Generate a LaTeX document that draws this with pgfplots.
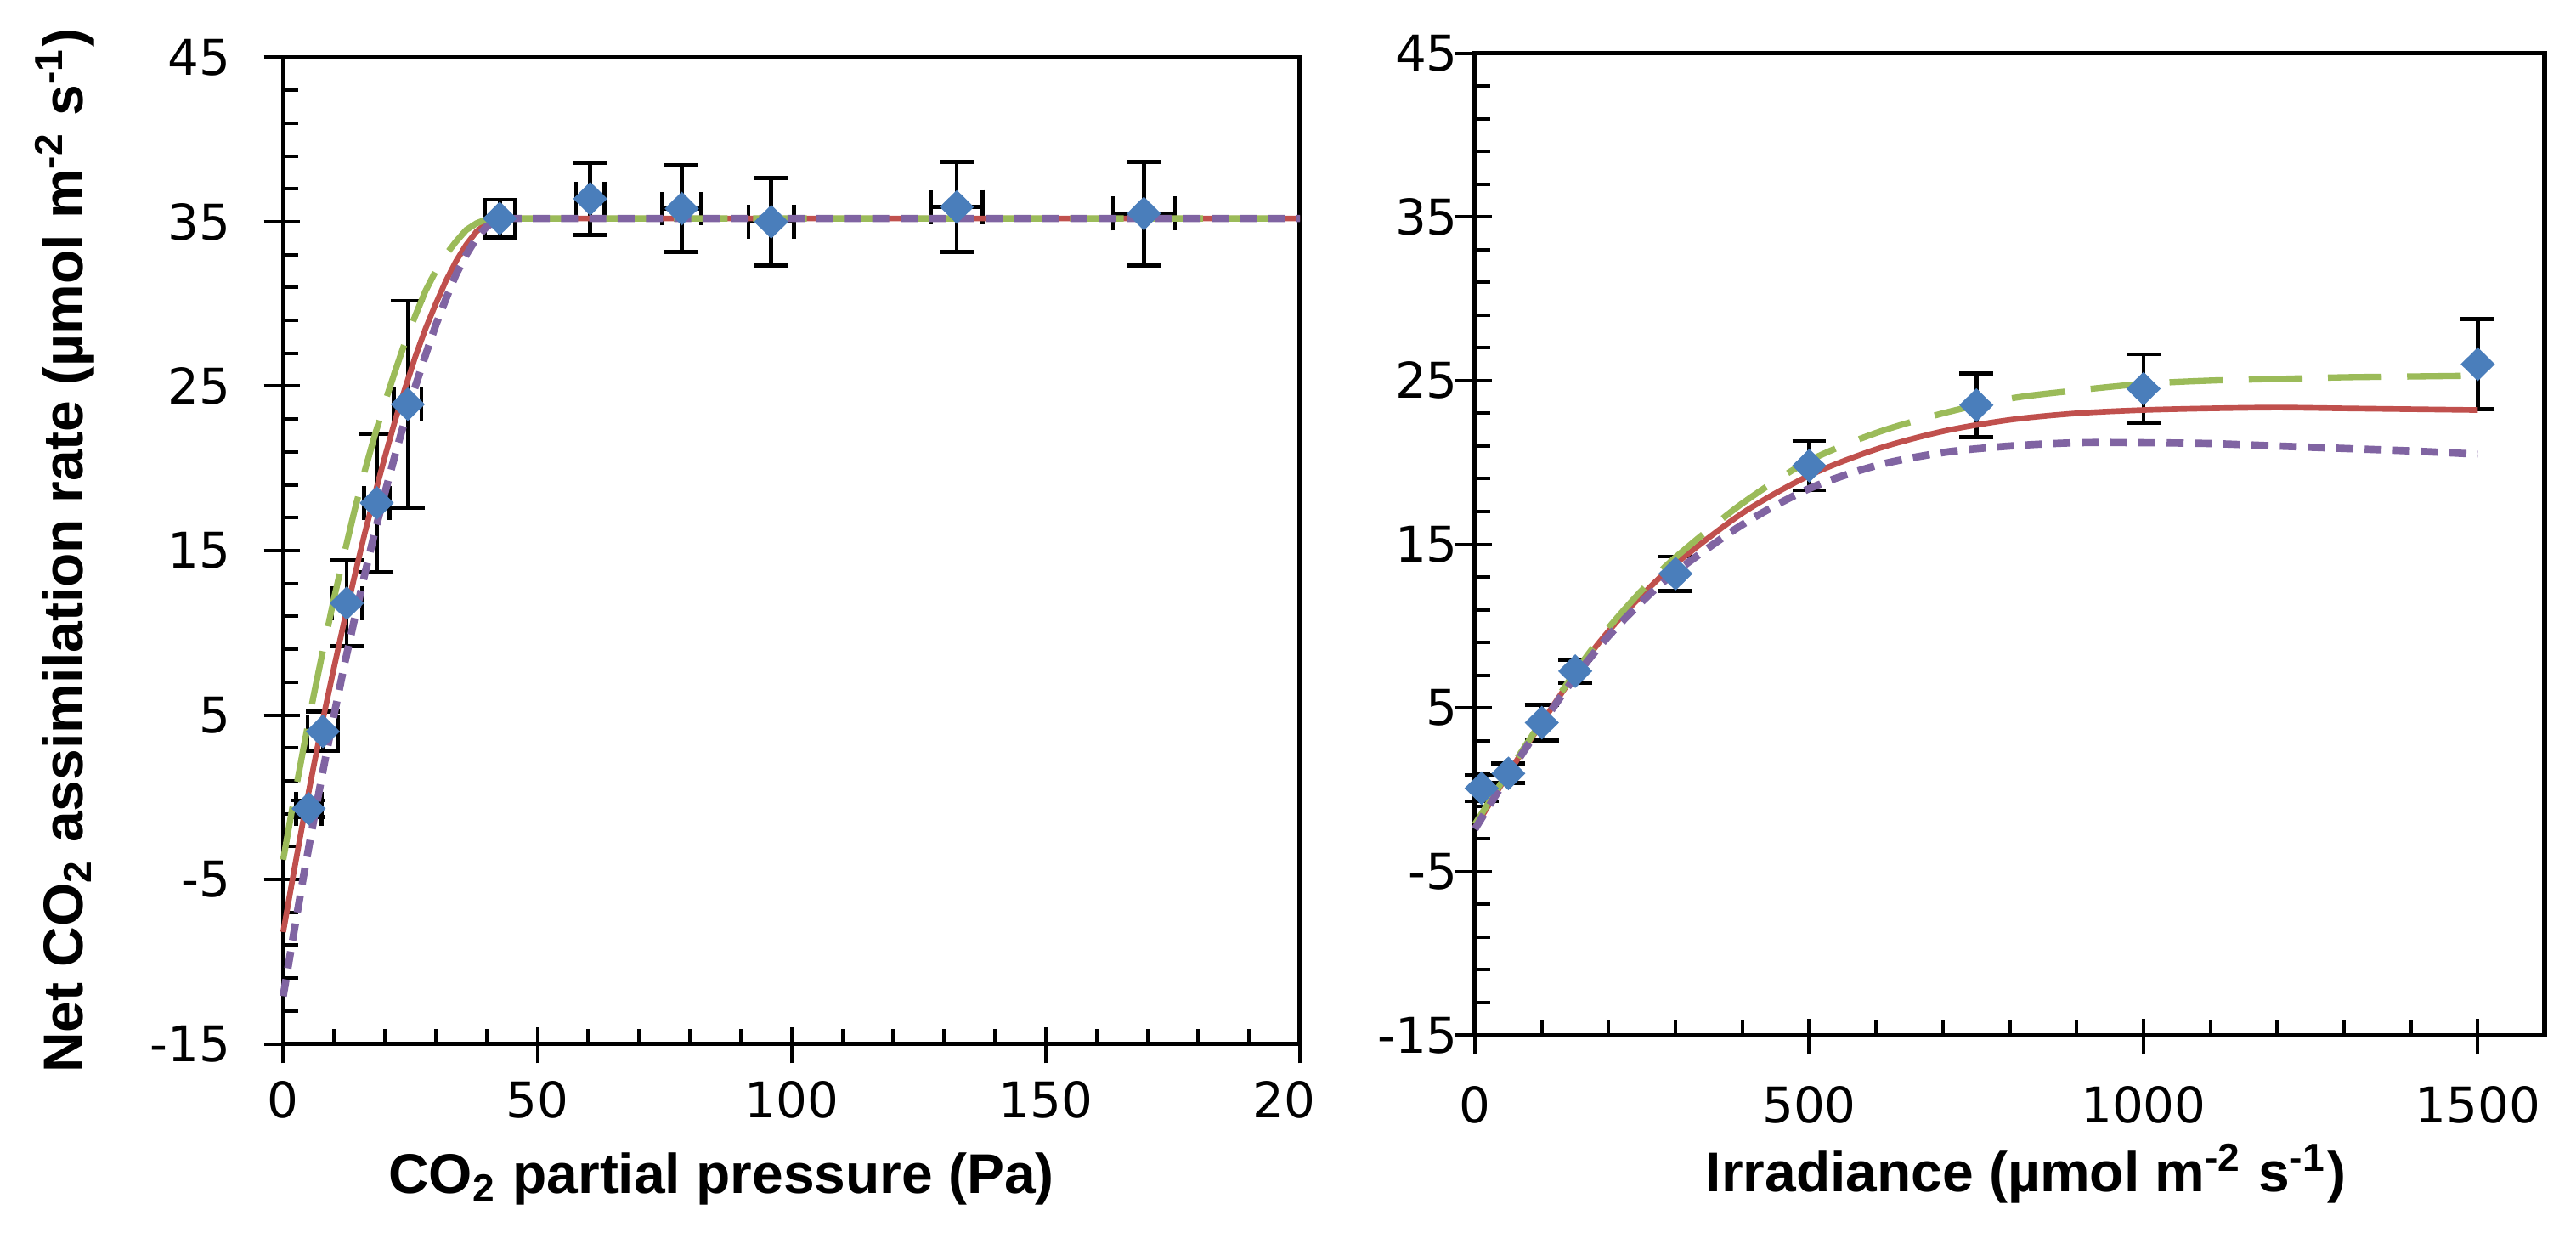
\documentclass[border=0pt]{standalone}
\usepackage{fontspec}
\setmainfont{Liberation Sans}
\newfontfamily\tickfont{DejaVu Sans}
\usepackage{pgfplots}
\pgfplotsset{compat=1.18}
\usepackage{pgfplotstable}

\definecolor{ptblue}{HTML}{4A7EBB}
\definecolor{fitred}{HTML}{C0504D}
\definecolor{fitgreen}{HTML}{9BBB59}
\definecolor{fitpurple}{HTML}{8064A2}

% CO2 response: x, y, x error, y error
\pgfplotstableread{
x     y     ex   ey
5.0   -0.7  2.5  0.5
7.8   4.0   3.0  1.2
12.5  11.8  3.0  2.6
18.4  17.9  2.5  4.2
24.5  23.9  2.7  6.3
42.6  35.2  3.0  1.15
60.4  36.4  2.8  2.2
78.4  35.8  3.9  2.65
96.0  35.0  4.5  2.65
132.5 35.9  5.1  2.75
169.3 35.5  6.1  3.15
}\cotwo

% light response: x, y, y error
\pgfplotstableread{
x     y     ey
10    0.1   0.8
50    1.0   0.6
100   4.1   1.1
150   7.25  0.7
300   13.2  1.05
500   19.8  1.5
750   23.5  1.95
1000  24.5  2.1
1500  26.0  2.75
}\light

\pgfplotsset{
  panel/.style={
    scale only axis,
    anchor=south west,
    clip=false,
    tick pos=left,
    tick align=inside,
    major tick length=0.105cm,
    minor tick length=0.095cm,
    minor y tick num=4,
    axis line style={line width=0.8pt},
    tick style={black, line width=0.6pt},
    ymin=-15, ymax=45,
    ytick={-15,-5,5,15,25,35,45},
    yticklabels={-15,-5,5,15,25,35,45},
    ticklabel style={font=\tickfont\fontsize{8.7}{10}\selectfont, inner sep=0pt},
    label style={font=\fontsize{9.9}{11}\selectfont\bfseries, anchor=base},
    extra y ticks={-15,-5,5,15,25,35,45},
    extra y tick labels={},
    extra tick style={tick align=outside, major tick length=0.12cm, minor tick num=0},
  },
  pts/.style={
    only marks, mark=diamond*, color=ptblue, mark size=2.7pt,
    mark options={xscale=1.35, draw=ptblue, fill=ptblue},
    error bars/error bar style={black, line width=0.7pt},
    error bars/error mark options={rotate=90, black, line width=0.7pt, mark size=3pt},
  },
  redfit/.style={fitred, line width=1.0pt, no marks},
  greenfit/.style={fitgreen, line width=1.1pt, dash pattern=on 9.5pt off 4.5pt, no marks},
  purplefit/.style={fitpurple, line width=1.3pt, dash pattern=on 3pt off 2pt, no marks},
}

\begin{document}
\begin{tikzpicture}
\path[use as bounding box] (0,0) rectangle (16cm,7.789cm);

\begin{axis}[panel,
  at={(1.759cm,1.306cm)}, width=6.315cm, height=6.127cm,
  xmin=0, xmax=200,
  xtick={0,50,100,150,200},
  xticklabels={0,50,100,150,{20\phantom{0}}},
  minor x tick num=4,
  extra x ticks={0,50,100,150,200},
  extra x tick labels={},
  yticklabel style={anchor=east, xshift=-0.32cm},
  xticklabel style={anchor=north, yshift=-0.224cm},
  xlabel={CO\textsubscript{2} partial pressure (Pa)},
  ylabel={Net CO\textsubscript{2} assimilation rate (µmol m\textsuperscript{-2} s\textsuperscript{-1})},
  xlabel style={at={(axis description cs:0.431,-0.1515)}},
  ylabel style={at={(axis description cs:-0.1967,0.5)}},
]
\addplot[pts, error bars/.cd, x dir=both, x explicit, y dir=both, y explicit]
  table[x=x, y=y, x error=ex, y error=ey] {\cotwo};
\addplot[redfit] coordinates {
  (0,-8.2)(2,-4.7)(4,-1.3)(6,1.9)(8,5.0)(10,7.9)(12,10.7)(14,13.4)(16,16.0)
  (18,18.4)(20,20.7)(22,22.9)(24,24.9)(26,26.8)(28,28.5)(30,30.0)(32,31.4)
  (34,32.6)(36,33.6)(38,34.4)(40,34.9)(42,35.15)(44,35.2)(200,35.2)};
\addplot[greenfit] coordinates {
  (0,-3.8)(2,-0.3)(4,3.0)(6,6.2)(8,9.2)(10,12.1)(12,14.8)(14,17.4)(16,19.8)
  (18,22.0)(20,24.0)(22,25.9)(24,27.7)(26,29.3)(28,30.8)(30,32.0)(32,33.0)
  (34,33.8)(36,34.5)(38,34.9)(40,35.15)(42,35.2)(200,35.2)};
\addplot[purplefit] coordinates {
  (0,-12.1)(2,-8.4)(4,-4.8)(6,-1.4)(8,1.9)(10,5.0)(12,8.0)(14,10.8)(16,13.5)
  (18,16.1)(20,18.5)(22,20.8)(24,23.0)(26,25.0)(28,26.9)(30,28.7)(32,30.3)
  (34,31.8)(36,33.0)(38,34.0)(40,34.7)(42,35.1)(44,35.2)(200,35.2)};
\end{axis}

\begin{axis}[panel,
  at={(9.161cm,1.359cm)}, width=6.644cm, height=6.100cm,
  xmin=0, xmax=1600,
  xtick={0,500,1000,1500},
  xticklabels={0,500,1000,1500},
  minor x tick num=4,
  extra x ticks={0,500,1000,1500},
  extra x tick labels={},
  yticklabel style={anchor=east, xshift=-0.1cm},
  xticklabel style={anchor=north, yshift=-0.307cm},
  xlabel={Irradiance (µmol m\textsuperscript{-2} s\textsuperscript{-1})},
  xlabel style={at={(axis description cs:0.515,-0.1591)}},
]
\addplot[pts, error bars/.cd, y dir=both, y explicit]
  table[x=x, y=y, y error=ey] {\light};
\addplot[redfit, smooth] coordinates {
  (0,-2.3)(50,1.0)(100,4.1)(150,7.1)(200,9.7)(250,11.9)(300,13.8)(400,16.9)
  (500,19.2)(600,20.8)(700,21.9)(800,22.6)(900,23.0)(1000,23.2)(1100,23.3)
  (1200,23.35)(1300,23.3)(1400,23.25)(1500,23.2)};
\addplot[greenfit, smooth] coordinates {
  (0,-2.1)(50,1.1)(100,4.2)(150,7.2)(200,9.9)(250,12.2)(300,14.2)(400,17.5)
  (500,20.1)(600,21.8)(700,23.0)(800,23.9)(900,24.4)(1000,24.8)(1100,25.0)
  (1200,25.1)(1300,25.2)(1400,25.25)(1500,25.3)};
\addplot[purplefit, smooth] coordinates {
  (0,-2.4)(50,0.9)(100,4.0)(150,6.9)(200,9.4)(250,11.5)(300,13.3)(400,16.2)
  (500,18.4)(600,19.8)(700,20.6)(800,21.0)(900,21.2)(1000,21.2)(1100,21.15)
  (1200,21.0)(1300,20.85)(1400,20.7)(1500,20.5)};
\end{axis}
\end{tikzpicture}
\end{document}
